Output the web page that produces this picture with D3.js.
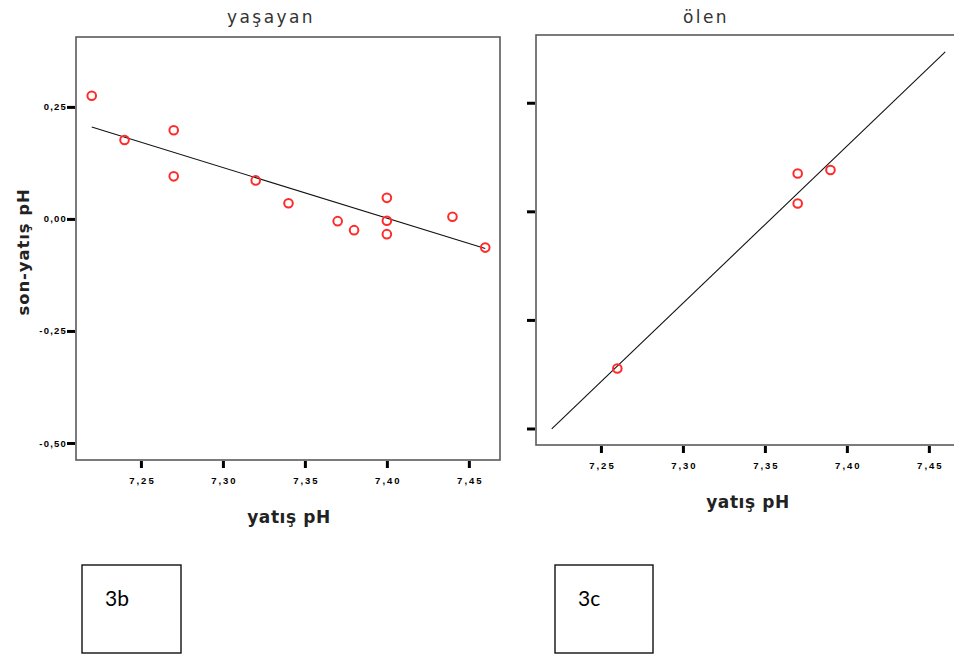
<!DOCTYPE html>
<html>
<head>
<meta charset="utf-8">
<script src="https://cdn.jsdelivr.net/npm/d3@7"></script>
<style>
  body { margin: 0; background: #fff; }
  svg { display: block; }
</style>
</head>
<body>
<svg id="chart"></svg>
<script>
// canvas size
const width = 954, height = 655;

// survivors (yaşayan)
const aliveX = [7.22, 7.24, 7.27, 7.27, 7.32, 7.34, 7.37, 7.38, 7.40, 7.40, 7.40, 7.44, 7.46];
const aliveY = [0.275, 0.176, 0.198, 0.095, 0.086, 0.035, -0.005, -0.025, 0.047, -0.004, -0.034, 0.005, -0.064];
// fit line ends
const aliveFitX = [7.22, 7.46];
const aliveFitY = [0.205, -0.066];

// deceased (ölen)
const deadX = [7.26, 7.37, 7.37, 7.39];
const deadY = [-0.362, 0.087, 0.018, 0.095];
const deadFitX = [7.22, 7.46];
const deadFitY = [-0.501, 0.367];

// axes
const xDomain = [7.2104, 7.469];
const yDomain = [-0.538, 0.406];
const xTicks = [7.25, 7.30, 7.35, 7.40, 7.45];
const xTickLabels = ['7,25', '7,30', '7,35', '7,40', '7,45'];
const yTicks = [0.25, 0, -0.25, -0.5];
const yTickLabels = ['0,25', '0,00', '-0,25', '-0,50'];

const svg = d3.select('#chart').attr('width', width).attr('height', height);

// panel layout (the right panel in the source is a bit shorter)
const panels = [
  { title: 'yaşayan', titleX: 271, xTitleX: 289, xs: aliveX, ys: aliveY, fx: aliveFitX, fy: aliveFitY,
    left: 76, right: 500, top: 37, bottom: 460, yLabels: true },
  { title: 'ölen', titleX: 706, xTitleX: 748, xs: deadX, ys: deadY, fx: deadFitX, fy: deadFitY,
    left: 536, right: 960, top: 35, bottom: 445, yLabels: false }
];

const tickFont = 'Liberation Sans, Arial, sans-serif';
const labelFont = 'DejaVu Sans, sans-serif';

panels.forEach(p => {
  const x = d3.scaleLinear().domain(xDomain).range([p.left, p.right]);
  const y = d3.scaleLinear().domain(yDomain).range([p.bottom, p.top]);
  const g = svg.append('g');

  // frame
  g.append('rect')
    .attr('x', p.left).attr('y', p.top)
    .attr('width', p.right - p.left).attr('height', p.bottom - p.top)
    .attr('fill', 'none').attr('stroke', '#5a5a5a').attr('stroke-width', 1.6);

  // y axis
  const yAxis = d3.axisLeft(y).tickValues(yTicks).tickSize(8).tickSizeOuter(0)
    .tickFormat((d, i) => p.yLabels ? yTickLabels[i] : '');
  const ya = g.append('g').attr('transform', `translate(${p.left - 1},0)`).call(yAxis);
  ya.select('.domain').remove();
  ya.selectAll('.tick line').attr('stroke', '#000').attr('stroke-width', 3);
  ya.selectAll('.tick text')
    .attr('x', -8).attr('font-family', tickFont).attr('font-weight', 'bold')
    .attr('font-size', 9.5).attr('letter-spacing', 1.2).attr('fill', '#000');

  // x axis
  const xAxis = d3.axisBottom(x).tickValues(xTicks).tickSize(7).tickSizeOuter(0)
    .tickFormat((d, i) => xTickLabels[i]);
  const xa = g.append('g').attr('transform', `translate(0,${p.bottom + 1})`).call(xAxis);
  xa.select('.domain').remove();
  xa.selectAll('.tick line').attr('stroke', '#000').attr('stroke-width', 3);
  xa.selectAll('.tick text')
    .attr('y', 16).attr('dx', 1).attr('font-family', tickFont).attr('font-weight', 'bold')
    .attr('font-size', 9.5).attr('letter-spacing', 2).attr('fill', '#000');

  // fit line
  g.append('line')
    .attr('x1', x(p.fx[0])).attr('y1', y(p.fy[0]))
    .attr('x2', x(p.fx[1])).attr('y2', y(p.fy[1]))
    .attr('stroke', '#111').attr('stroke-width', 1.1);

  // points
  g.selectAll('circle.pt')
    .data(p.xs.map((v, i) => [v, p.ys[i]]))
    .enter()
    .append('circle')
    .attr('class', 'pt')
    .attr('cx', d => x(d[0]))
    .attr('cy', d => y(d[1]))
    .attr('r', 4.3)
    .attr('fill', 'none')
    .attr('stroke', '#ff2a2a')
    .attr('stroke-width', 2);

  // panel title
  g.append('text')
    .attr('x', p.titleX).attr('y', 23)
    .attr('text-anchor', 'middle')
    .attr('font-family', labelFont)
    .attr('font-size', 17).attr('letter-spacing', 2.4).attr('fill', '#333')
    .text(p.title);

  // x axis title
  g.append('text')
    .attr('x', p.xTitleX).attr('y', p.bottom + 63)
    .attr('text-anchor', 'middle')
    .attr('font-family', labelFont)
    .attr('font-weight', 'bold').attr('font-size', 17).attr('letter-spacing', 0.6).attr('fill', '#222')
    .text('yatış pH');
});

// y axis title
svg.append('text')
  .attr('transform', 'translate(29,252) rotate(-90)')
  .attr('text-anchor', 'middle')
  .attr('font-family', labelFont)
  .attr('font-weight', 'bold').attr('font-size', 16.5).attr('letter-spacing', 0.9).attr('fill', '#222')
  .text('son-yatış pH');

// figure label boxes
const labelBoxes = [
  { text: '3b', x: 82, w: 99 },
  { text: '3c', x: 555, w: 98 }
];
labelBoxes.forEach(b => {
  svg.append('rect')
    .attr('x', b.x).attr('y', 565).attr('width', b.w).attr('height', 88)
    .attr('fill', 'none').attr('stroke', '#111').attr('stroke-width', 1.4);
  svg.append('text')
    .attr('x', b.x + 23).attr('y', 606)
    .attr('font-family', 'Lato, Open Sans, sans-serif')
    .attr('font-size', 21).attr('fill', '#000')
    .text(b.text);
});
</script>
</body>
</html>
